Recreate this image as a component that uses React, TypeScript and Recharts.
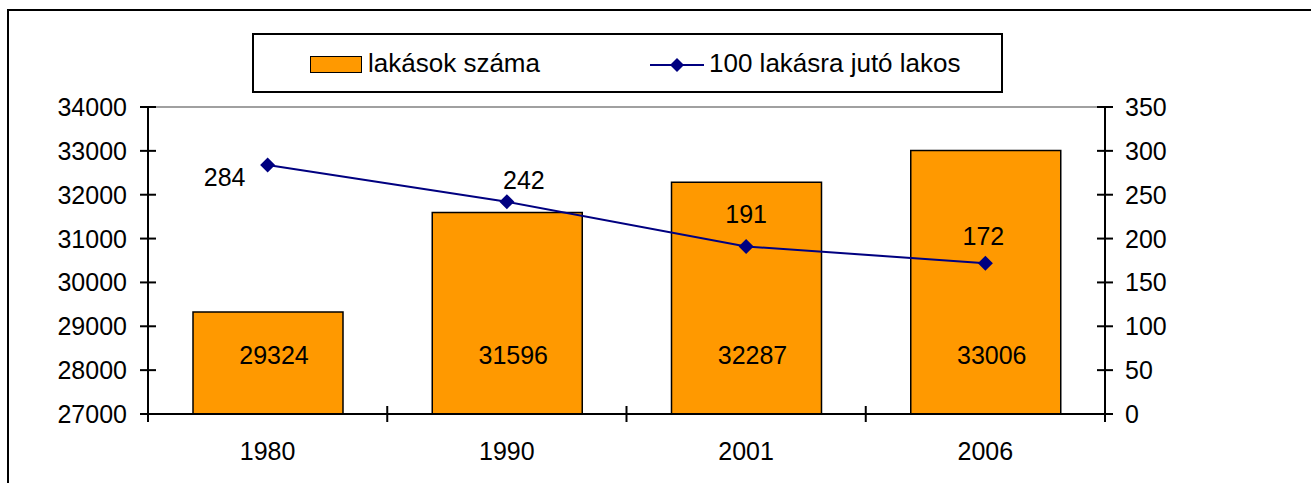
import { Bar, ComposedChart, LabelList, Line, ReferenceLine, XAxis, YAxis } from "recharts"

const years = ["1980", "1990", "2001", "2006"]
const dwellings = [29324, 31596, 32287, 33006]
const residentsPer100 = [284, 242, 191, 172]
const leftTicks = [27000, 28000, 29000, 30000, 31000, 32000, 33000, 34000]
const rightTicks = [0, 50, 100, 150, 200, 250, 300, 350]

const barName = "lakások száma"
const lineName = "100 lakásra jutó lakos"

// manual label placement (like the Excel original)
const lineLabelShift = [
  { dx: -43, dy: 12 },
  { dx: 17, dy: -22 },
  { dx: 0, dy: -32 },
  { dx: -2, dy: -27 },
]

const data = years.map((year, i) => ({
  year,
  count: dwellings[i],
  rate: residentsPer100[i],
}))

const FONT = "'Liberation Sans', Arial, sans-serif"
const FS = 25
const W = 1311
const H = 483
const PLOT_L = 148
const PLOT_R = 1105
const PLOT_T = 107
const PLOT_B = 414
const BAND = (PLOT_R - PLOT_L) / years.length

function LeftTick(props: any) {
  const { x, y, payload } = props
  return (
    <g>
      <line x1={x + 13} x2={x + 29} y1={y} y2={y} stroke="#000" strokeWidth={2} />
      <text x={x} y={y} dy="0.36em" textAnchor="end" fontSize={FS} fontFamily={FONT} fill="#000">
        {payload.value}
      </text>
    </g>
  )
}

function RightTick(props: any) {
  const { x, y, payload } = props
  return (
    <g>
      <line x1={x - 28} x2={x - 12} y1={y} y2={y} stroke="#000" strokeWidth={2} />
      <text x={x} y={y} dy="0.36em" textAnchor="start" fontSize={FS} fontFamily={FONT} fill="#000">
        {payload.value}
      </text>
    </g>
  )
}

function BottomTick(props: any) {
  const { x, payload, index } = props
  const left = x - BAND / 2
  const right = x + BAND / 2
  return (
    <g>
      <line x1={left} x2={left} y1={PLOT_B - 8} y2={PLOT_B + 8} stroke="#000" strokeWidth={2} />
      {index === years.length - 1 && (
        <line x1={right} x2={right} y1={PLOT_B - 8} y2={PLOT_B + 8} stroke="#000" strokeWidth={2} />
      )}
      <text x={x} y={451} dy="0.36em" textAnchor="middle" fontSize={FS} fontFamily={FONT} fill="#000">
        {payload.value}
      </text>
    </g>
  )
}

function Diamond(props: any) {
  const { cx, cy } = props
  if (cx == null || cy == null) return null
  const r = 7.5
  return <path d={`M${cx},${cy - r}L${cx + r},${cy}L${cx},${cy + r}L${cx - r},${cy}Z`} fill="#000080" />
}

function BarValue(props: any) {
  const { x, y, width, height, value } = props
  return (
    <text
      x={x + width / 2 + 6}
      y={y + height - 59}
      dy="0.36em"
      textAnchor="middle"
      fontSize={FS}
      fontFamily={FONT}
      fill="#000"
    >
      {value}
    </text>
  )
}

function LineValue(props: any) {
  const { x, y, value, index } = props
  const s = lineLabelShift[index] ?? { dx: 0, dy: -25 }
  return (
    <text x={x + s.dx} y={y + s.dy} dy="0.36em" textAnchor="middle" fontSize={FS} fontFamily={FONT} fill="#000">
      {value}
    </text>
  )
}

function LegendBox() {
  return (
    <div
      style={{
        position: "absolute",
        left: 252,
        top: 33,
        boxSizing: "border-box",
        width: 751,
        height: 60,
        border: "2px solid #000",
        background: "#fff",
        fontFamily: FONT,
        fontSize: 26,
        color: "#000",
      }}
    >
      <div
        style={{
          position: "absolute",
          left: 56,
          top: 21,
          width: 50,
          height: 15,
          background: "#FF9900",
          border: "1.5px solid #000",
        }}
      />
      <span style={{ position: "absolute", left: 114, top: 14, lineHeight: "28px" }}>{barName}</span>
      <svg style={{ position: "absolute", left: 396, top: 20 }} width={54} height={20}>
        <line x1={0} x2={54} y1={10} y2={10} stroke="#000080" strokeWidth={2} />
        <path d="M27,3L34,10L27,17L20,10Z" fill="#000080" />
      </svg>
      <span style={{ position: "absolute", left: 455, top: 14, lineHeight: "28px" }}>{lineName}</span>
    </div>
  )
}

export default function App() {
  return (
    <div
      style={{
        position: "absolute",
        left: 0,
        top: 0,
        width: W,
        height: H,
        overflow: "hidden",
        background: "#fff",
      }}
    >
      <div
        style={{
          position: "absolute",
          left: 7,
          top: 9,
          width: W + 20,
          height: H + 20,
          borderLeft: "2px solid #000",
          borderTop: "2px solid #000",
        }}
      />
      <div style={{ position: "absolute", left: 0, top: 0 }}>
        <ComposedChart
          width={W}
          height={H}
          data={data}
          margin={{ top: PLOT_T, right: 0, bottom: 0, left: 0 }}
        >
          <XAxis
            dataKey="year"
            height={H - PLOT_B}
            axisLine={{ stroke: "#000", strokeWidth: 2 }}
            tickLine={false}
            tick={<BottomTick />}
            interval={0}
          />
          <YAxis
            yAxisId="left"
            width={PLOT_L}
            domain={[27000, 34000]}
            ticks={leftTicks}
            allowDataOverflow
            axisLine={{ stroke: "#000", strokeWidth: 2 }}
            tickLine={false}
            tickSize={8}
            tickMargin={13}
            tick={<LeftTick />}
          />
          <YAxis
            yAxisId="right"
            orientation="right"
            width={W - PLOT_R}
            domain={[0, 350]}
            ticks={rightTicks}
            axisLine={{ stroke: "#000", strokeWidth: 2 }}
            tickLine={false}
            tickSize={8}
            tickMargin={12}
            tick={<RightTick />}
          />
          <ReferenceLine yAxisId="left" y={34000} stroke="#808080" strokeWidth={1.5} />
          <Bar
            yAxisId="left"
            dataKey="count"
            name={barName}
            fill="#FF9900"
            stroke="#000"
            strokeWidth={1.5}
            barSize={150}
            isAnimationActive={false}
          >
            <LabelList dataKey="count" content={<BarValue />} />
          </Bar>
          <Line
            yAxisId="right"
            dataKey="rate"
            name={lineName}
            stroke="#000080"
            strokeWidth={2}
            dot={<Diamond />}
            activeDot={false}
            isAnimationActive={false}
          >
            <LabelList dataKey="rate" content={<LineValue />} />
          </Line>
        </ComposedChart>
      </div>
      <LegendBox />
    </div>
  )
}
